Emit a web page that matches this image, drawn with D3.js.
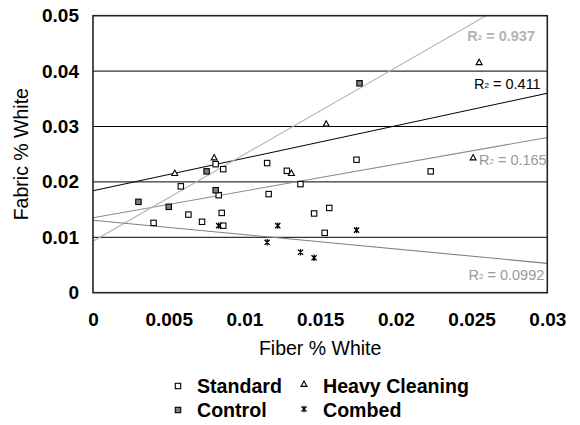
<!DOCTYPE html>
<html>
<head>
<meta charset="utf-8">
<script src="https://cdn.jsdelivr.net/npm/d3@7"></script>
<style>
  body { margin: 0; background: #fff; }
  text { font-family: Arial, "Liberation Sans", sans-serif; }
</style>
</head>
<body>
<div id="wrapper"></div>
<script>
// tick values and labels
const xTicks = [0, 0.005, 0.01, 0.015, 0.02, 0.025, 0.03]
const xTickLabels = ["0", "0.005", "0.01", "0.015", "0.02", "0.025", "0.03"]
const yTicks = [0, 0.01, 0.02, 0.03, 0.04, 0.05]
const yTickLabels = ["0", "0.01", "0.02", "0.03", "0.04", "0.05"]

// series
const seriesNames = ["Standard", "Heavy Cleaning", "Control", "Combed"]

const standardFiber = [0.0081, 0.0086, 0.0115, 0.0128, 0.0058, 0.0083, 0.0116, 0.0137, 0.0040,
                       0.0063, 0.0072, 0.0085, 0.0086, 0.0146, 0.0156, 0.0153, 0.0174, 0.0223]
const standardFabric = [0.0232, 0.0223, 0.0234, 0.0220, 0.0192, 0.0176, 0.0178, 0.0196, 0.0126,
                        0.0141, 0.0128, 0.0144, 0.0121, 0.0143, 0.0153, 0.0108, 0.0240, 0.0219]

const heavyFiber = [0.0054, 0.0080, 0.0131, 0.0154, 0.0251, 0.0255]
const heavyFabric = [0.0216, 0.0244, 0.0216, 0.0305, 0.0244, 0.0416]

const controlFiber = [0.0030, 0.0050, 0.0075, 0.0081, 0.0176]
const controlFabric = [0.0164, 0.0155, 0.0219, 0.0185, 0.0378]

const combedFiber = [0.0083, 0.0122, 0.0174, 0.0115, 0.0137, 0.0146]
const combedFabric = [0.0121, 0.0121, 0.0113, 0.0091, 0.0073, 0.0063]

// linear trend lines: fabric value at fiber = 0 and at fiber = 0.03
const trendAtZero = [0.01354, 0.01840, 0.00930, 0.01307]
const trendAtMax = [0.02800, 0.03600, 0.05634, 0.00530]
const rSquared = ["0.165", "0.411", "0.937", "0.0992"]

const dimensions = {
  width: 580,
  height: 425,
  margin: { top: 15.7, right: 32.7, bottom: 132.3, left: 93 },
}
dimensions.boundedWidth = dimensions.width - dimensions.margin.left - dimensions.margin.right
dimensions.boundedHeight = dimensions.height - dimensions.margin.top - dimensions.margin.bottom

const svg = d3.select("#wrapper")
  .append("svg")
    .attr("width", dimensions.width)
    .attr("height", dimensions.height)

const bounds = svg.append("g")
    .attr("transform", `translate(${dimensions.margin.left},${dimensions.margin.top})`)

const xScale = d3.scaleLinear()
  .domain([0, 0.03])
  .range([0, dimensions.boundedWidth])

const yScale = d3.scaleLinear()
  .domain([0, 0.05])
  .range([dimensions.boundedHeight, 0])

// horizontal grid lines
bounds.append("g")
  .selectAll("line")
  .data(yTicks.slice(1, -1))
  .join("line")
    .attr("x1", 0)
    .attr("x2", dimensions.boundedWidth)
    .attr("y1", d => yScale(d))
    .attr("y2", d => yScale(d))
    .attr("stroke", "#000")
    .attr("stroke-width", 1)

// trend lines, clipped to the plot area
bounds.append("clipPath")
    .attr("id", "plot-clip")
  .append("rect")
    .attr("width", dimensions.boundedWidth)
    .attr("height", dimensions.boundedHeight)

const series = seriesNames.map((name, i) => ({
  name,
  xs: [standardFiber, heavyFiber, controlFiber, combedFiber][i],
  ys: [standardFabric, heavyFabric, controlFabric, combedFabric][i],
  trend: [[xScale.domain()[0], trendAtZero[i]], [xScale.domain()[1], trendAtMax[i]]],
  r2: rSquared[i],
}))

// styles per series
const styles = {
  "Standard":       { line: "#8c8c8c", label: "#999999", weight: "normal", lx: 546.7, ly: 165 },
  "Heavy Cleaning": { line: "#000000", label: "#000000", weight: "normal", lx: 540.7, ly: 89.3 },
  "Control":        { line: "#b4b4b4", label: "#b4b4b4", weight: "bold",   lx: 535,   ly: 40.5 },
  "Combed":         { line: "#808080", label: "#999999", weight: "normal", lx: 544.3, ly: 280 },
}

const lineGenerator = d3.line()
  .x(d => xScale(d[0]))
  .y(d => yScale(d[1]))

const trends = bounds.append("g").attr("clip-path", "url(#plot-clip)")
series.forEach(s => {
  trends.append("path")
    .attr("d", lineGenerator(s.trend))
    .attr("fill", "none")
    .attr("stroke", styles[s.name].line)
    .attr("stroke-width", 1.1)
})

// plot border
bounds.append("rect")
    .attr("width", dimensions.boundedWidth)
    .attr("height", dimensions.boundedHeight)
    .attr("fill", "none")
    .attr("stroke", "#222")
    .attr("stroke-width", 1.6)

// markers
const drawMarker = (sel, name) => {
  if (name === "Standard") {
    sel.append("rect").attr("x", -2.7).attr("y", -2.7).attr("width", 5.4).attr("height", 5.4)
      .attr("fill", "#fff").attr("stroke", "#000").attr("stroke-width", 1.1)
  } else if (name === "Control") {
    sel.append("rect").attr("x", -2.7).attr("y", -2.7).attr("width", 5.4).attr("height", 5.4)
      .attr("fill", "#7f7f7f").attr("stroke", "#000").attr("stroke-width", 1.1)
  } else if (name === "Heavy Cleaning") {
    sel.append("path").attr("d", "M0,-3L3,2.4L-3,2.4Z")
      .attr("fill", "#fff").attr("stroke", "#000").attr("stroke-width", 1.1)
  } else {
    const p = d3.path()
    p.moveTo(-2.6, -2.6); p.lineTo(2.6, 2.6)
    p.moveTo(-2.6, 2.6); p.lineTo(2.6, -2.6)
    p.moveTo(0, -3.2); p.lineTo(0, 3.2)
    sel.append("path").attr("d", p.toString())
      .attr("fill", "none").attr("stroke", "#000").attr("stroke-width", 1.3)
  }
}

series.forEach(s => {
  bounds.append("g")
    .selectAll("g")
    .data(s.xs.map((x, i) => [x, s.ys[i]]))
    .join("g")
      .attr("transform", d => `translate(${xScale(d[0])},${yScale(d[1])})`)
      .each(function() { drawMarker(d3.select(this), s.name) })
})

// R² labels
series.forEach(s => {
  const st = styles[s.name]
  const t = svg.append("text")
      .attr("x", st.lx)
      .attr("y", st.ly)
      .attr("text-anchor", "end")
      .attr("fill", st.label)
      .attr("font-size", 14.5)
      .attr("font-weight", st.weight)
  t.append("tspan").text("R")
  t.append("tspan").attr("font-size", 8).attr("dy", -1).text("2")
  t.append("tspan").attr("dy", 1).text(" = " + s.r2)
})

// axes
const xAxisGenerator = d3.axisBottom(xScale)
  .tickValues(xTicks)
  .tickFormat((d, i) => xTickLabels[i])
  .tickSize(0)
  .tickPadding(20)

const xAxis = bounds.append("g")
    .attr("transform", `translate(0,${dimensions.boundedHeight})`)
    .call(xAxisGenerator)
xAxis.select(".domain").remove()
xAxis.selectAll("text")
    .attr("font-family", "Arial, 'Liberation Sans', sans-serif")
    .attr("font-size", 19)
    .attr("font-weight", "bold")
    .attr("fill", "#000")

const yAxisGenerator = d3.axisLeft(yScale)
  .tickValues(yTicks)
  .tickFormat((d, i) => yTickLabels[i])
  .tickSize(0)
  .tickPadding(14)

const yAxis = bounds.append("g").call(yAxisGenerator)
yAxis.select(".domain").remove()
yAxis.selectAll("text")
    .attr("font-family", "Arial, 'Liberation Sans', sans-serif")
    .attr("font-size", 19)
    .attr("font-weight", "bold")
    .attr("fill", "#000")

// axis titles
svg.append("text")
    .attr("x", dimensions.margin.left + dimensions.boundedWidth / 2)
    .attr("y", 355)
    .attr("text-anchor", "middle")
    .attr("font-size", 19.5)
    .text("Fiber % White")

svg.append("text")
    .attr("transform", `translate(28,${dimensions.margin.top + dimensions.boundedHeight / 2}) rotate(-90)`)
    .attr("text-anchor", "middle")
    .attr("font-size", 19.5)
    .text("Fabric % White")

// legend
const legendItems = [
  { name: seriesNames[0], x: 178, y: 386 },
  { name: seriesNames[1], x: 304, y: 384 },
  { name: seriesNames[2], x: 178, y: 410 },
  { name: seriesNames[3], x: 304, y: 409 },
]
const legend = svg.append("g")
legendItems.forEach(item => {
  const g = legend.append("g").attr("transform", `translate(${item.x},${item.y})`)
  drawMarker(g, item.name)
  legend.append("text")
      .attr("x", item.x + 19)
      .attr("y", item.y < 400 ? 393 : 417)
      .attr("font-size", 19.6)
      .attr("font-weight", "bold")
      .text(item.name)
})
</script>
</body>
</html>
